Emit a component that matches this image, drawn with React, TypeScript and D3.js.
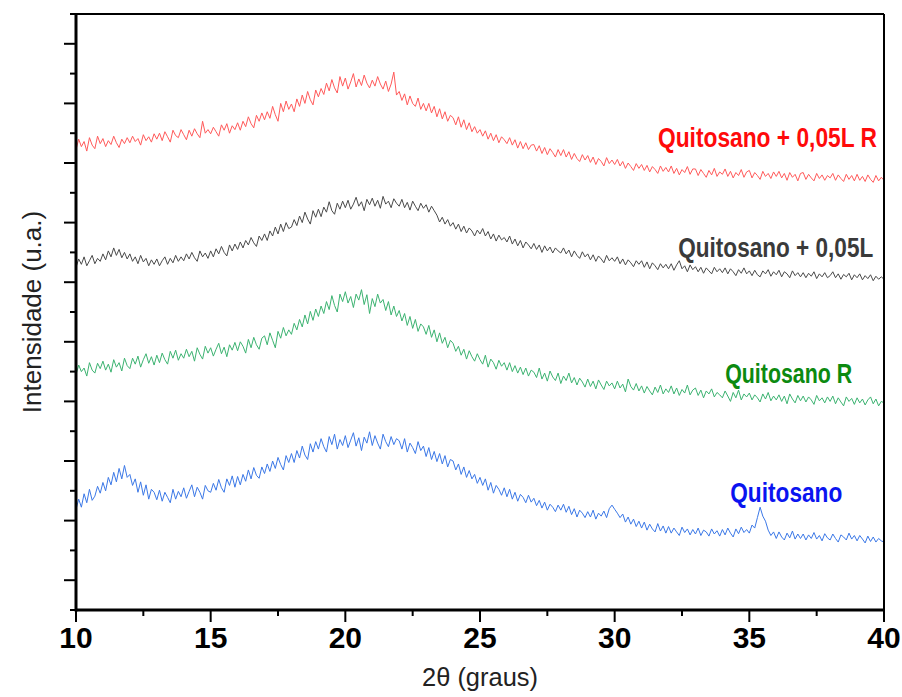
import * as d3 from 'd3';

// 2θ grid: 10° → 40° every 0.1°
const THETA_START = 10;
const THETA_STEP = 0.1;

const xTicks = [10, 15, 20, 25, 30, 35, 40];

// intensities (arbitrary units, 100 per y tick)
const quitosano = [
  338, 372, 345, 390, 360, 405, 368, 382, 415, 392,
  428, 400, 445, 420, 462, 430, 475, 440, 485, 445,
  455, 418, 440, 395, 430, 385, 420, 372, 405, 395,
  370, 402, 365, 395, 378, 360, 405, 372, 398, 380,
  410, 375, 398, 420, 380, 412, 395, 372, 418, 400,
  395, 425, 402, 438, 410, 395, 440, 418, 450, 412,
  448, 420, 455, 432, 470, 440, 478, 452, 442, 480,
  458, 490, 465, 500, 475, 512, 488, 470, 518, 495,
  525, 495, 535, 510, 550, 520, 505, 558, 530, 565,
  540, 575, 548, 530, 582, 555, 590, 540, 572, 552,
  585, 545, 570, 595, 550, 578, 535, 580, 560, 598,
  552, 585, 560, 540, 590, 565, 548, 582, 555, 575,
  568, 540, 575, 530, 560, 545, 525, 565, 535, 550,
  515, 545, 505, 532, 498, 525, 490, 518, 480, 505,
  500, 470, 490, 455, 480, 445, 468, 440, 455, 425,
  445, 418, 440, 402, 428, 392, 418, 405, 385, 410,
  380, 405, 372, 395, 365, 388, 378, 360, 385, 362,
  375, 350, 368, 342, 362, 335, 355, 345, 330, 352,
  335, 355, 328, 348, 320, 340, 312, 335, 325, 310,
  330, 312, 335, 305, 325, 315, 332, 310, 340, 352,
  338, 325, 310, 322, 295, 312, 288, 305, 280, 298,
  275, 295, 268, 288, 272, 262, 290, 265, 282, 258,
  280, 258, 275, 262, 250, 278, 260, 272, 252, 270,
  255, 275, 250, 268, 262, 248, 272, 255, 266, 248,
  270, 252, 275, 258, 245, 272, 256, 278, 260, 270,
  258, 285, 275, 310, 345, 315, 298, 268, 250, 262,
  240, 262, 245, 235, 258, 242, 265, 238, 255, 240,
  255, 235, 252, 240, 260, 238, 250, 232, 256, 242,
  235, 255, 240, 228, 252, 245, 235, 258, 238, 250,
  232, 250, 238, 225, 248, 230, 245, 228, 240, 232,
  228,
];

const quitosanoR = [
  790, 822, 800, 812, 785, 830, 805, 795, 828, 810,
  835, 805, 825, 798, 840, 815, 830, 802, 845, 820,
  810, 845, 825, 852, 815, 840, 860, 828, 850, 822,
  855, 830, 862, 840, 825, 868, 845, 872, 838, 860,
  845, 875, 850, 868, 835, 880, 858, 842, 885, 862,
  880, 852, 875, 895, 860, 882, 850, 890, 872, 898,
  870, 900, 885, 862, 908, 880, 915, 890, 875, 912,
  920, 890, 930, 905, 880, 935, 912, 948, 920, 940,
  925, 962, 940, 975, 950, 990, 960, 1002, 972, 1010,
  985, 1020, 995, 1035, 1008, 1055, 1022, 1000, 1060, 1035,
  1068, 1030, 1052, 1015, 1060, 1040, 1075, 1025, 1058, 995,
  1045, 1018, 1060, 1030, 1042, 1005, 1035, 990, 1020, 985,
  1005, 970, 995, 955, 985, 945, 975, 935, 960, 950,
  925, 955, 915, 940, 900, 930, 895, 915, 880, 905,
  895, 868, 885, 855, 875, 842, 870, 850, 835, 860,
  840, 825, 855, 815, 842, 830, 808, 838, 818, 830,
  805, 830, 800, 820, 795, 815, 790, 812, 785, 805,
  798, 780, 812, 775, 795, 768, 802, 782, 770, 795,
  760, 785, 770, 795, 762, 780, 755, 778, 765, 748,
  775, 750, 768, 742, 772, 755, 740, 768, 752, 762,
  742, 768, 745, 758, 732, 775, 750, 738, 760, 735,
  752, 728, 750, 735, 722, 748, 730, 755, 725, 742,
  730, 752, 725, 745, 720, 740, 728, 755, 722, 738,
  745, 720, 738, 712, 735, 725, 742, 715, 730, 722,
  712, 735, 718, 700, 730, 712, 738, 705, 725, 715,
  728, 705, 722, 712, 698, 725, 708, 730, 702, 718,
  705, 722, 700, 718, 692, 725, 708, 695, 720, 702,
  718, 698, 715, 705, 690, 720, 702, 712, 695, 715,
  700, 718, 692, 712, 698, 685, 715, 700, 710, 690,
  712, 695, 708, 688, 705, 715, 692, 708, 685, 700,
  695,
];

const quitosanoL = [
  1150, 1178, 1160, 1185, 1155, 1172, 1190, 1162, 1180, 1170,
  1195, 1175, 1205, 1185, 1215, 1190, 1210, 1182, 1200, 1178,
  1195, 1170, 1185, 1162, 1190, 1168, 1180, 1155, 1175, 1160,
  1178, 1155, 1172, 1185, 1160, 1180, 1165, 1190, 1170, 1185,
  1172, 1195, 1178, 1200, 1182, 1170, 1205, 1185, 1198, 1180,
  1205, 1185, 1212, 1195, 1220, 1200, 1188, 1225, 1205, 1228,
  1210, 1235, 1215, 1240, 1225, 1250, 1232, 1220, 1255, 1240,
  1262, 1240, 1272, 1255, 1285, 1262, 1295, 1270, 1300, 1280,
  1285, 1310, 1290, 1322, 1300, 1335, 1312, 1295, 1340, 1318,
  1345, 1320, 1352, 1335, 1370, 1340, 1328, 1365, 1345, 1372,
  1350, 1375, 1345, 1362, 1385, 1355, 1370, 1340, 1378, 1360,
  1382, 1355, 1375, 1348, 1388, 1362, 1372, 1350, 1380, 1365,
  1355, 1378, 1350, 1368, 1342, 1372, 1355, 1340, 1365, 1348,
  1360, 1335, 1355, 1340, 1325, 1302, 1318, 1295, 1310, 1288,
  1300, 1278, 1295, 1270, 1288, 1265, 1282, 1272, 1255, 1275,
  1262, 1280, 1255, 1270, 1245, 1262, 1238, 1258, 1242, 1250,
  1235, 1255, 1228, 1245, 1222, 1240, 1215, 1235, 1225, 1212,
  1230, 1210, 1225, 1200, 1222, 1205, 1218, 1198, 1215, 1205,
  1198, 1215, 1195, 1208, 1185, 1205, 1190, 1180, 1202, 1185,
  1195, 1175, 1192, 1170, 1188, 1178, 1165, 1190, 1172, 1182,
  1170, 1185, 1162, 1178, 1158, 1175, 1165, 1152, 1172, 1160,
  1172, 1150, 1168, 1145, 1165, 1155, 1142, 1162, 1148, 1160,
  1145, 1162, 1140, 1158, 1172, 1145, 1155, 1135, 1158, 1142,
  1152, 1135, 1150, 1130, 1148, 1138, 1128, 1150, 1135, 1145,
  1132, 1148, 1128, 1145, 1135, 1122, 1142, 1130, 1148, 1128,
  1138, 1122, 1140, 1125, 1118, 1138, 1128, 1142, 1120, 1135,
  1125, 1140, 1118, 1135, 1128, 1115, 1138, 1122, 1132, 1118,
  1132, 1115, 1130, 1120, 1135, 1112, 1128, 1118, 1132, 1115,
  1122, 1135, 1115, 1128, 1110, 1126, 1118, 1130, 1108, 1125,
  1115, 1128, 1108, 1122, 1112, 1125, 1105, 1120, 1110, 1118,
  1110,
];

const quitosanoLR = [
  1545, 1580, 1555, 1572, 1540, 1585, 1560, 1548, 1590, 1565,
  1582, 1555, 1575, 1562, 1590, 1568, 1552, 1580, 1565, 1585,
  1568, 1590, 1572, 1582, 1560, 1595, 1575, 1588, 1570, 1598,
  1580, 1600, 1575, 1605, 1588, 1570, 1610, 1592, 1585, 1612,
  1595, 1578, 1610, 1590, 1615, 1598, 1585, 1640, 1600, 1612,
  1598, 1620, 1605, 1590, 1628, 1610, 1632, 1600, 1625, 1612,
  1635, 1610, 1640, 1622, 1655, 1632, 1618, 1660, 1640, 1668,
  1645, 1672, 1650, 1690, 1662, 1640, 1700, 1672, 1708, 1680,
  1698, 1672, 1715, 1690, 1728, 1700, 1740, 1712, 1695, 1745,
  1722, 1750, 1730, 1768, 1742, 1780, 1752, 1735, 1790, 1758,
  1785, 1748, 1772, 1800, 1755, 1782, 1760, 1795, 1768, 1752,
  1778, 1758, 1790, 1765, 1748, 1775, 1740, 1765, 1805, 1728,
  1740, 1710, 1732, 1695, 1725, 1700, 1690, 1718, 1680, 1700,
  1675, 1700, 1668, 1690, 1655, 1682, 1648, 1672, 1640, 1660,
  1652, 1628, 1655, 1620, 1645, 1612, 1635, 1605, 1622, 1600,
  1612, 1590, 1608, 1580, 1600, 1575, 1595, 1568, 1588, 1578,
  1565, 1585, 1560, 1578, 1550, 1572, 1548, 1568, 1545, 1560,
  1562, 1540, 1558, 1532, 1552, 1528, 1548, 1535, 1520, 1545,
  1525, 1545, 1520, 1538, 1512, 1532, 1515, 1505, 1528, 1510,
  1525, 1502, 1520, 1495, 1515, 1505, 1490, 1518, 1498, 1510,
  1495, 1512, 1490, 1505, 1482, 1500, 1488, 1475, 1498, 1482,
  1495, 1475, 1492, 1470, 1488, 1478, 1465, 1490, 1472, 1485,
  1470, 1490, 1465, 1482, 1460, 1478, 1468, 1488, 1462, 1480,
  1480, 1458, 1478, 1465, 1452, 1475, 1460, 1482, 1455, 1470,
  1462, 1480, 1455, 1472, 1450, 1468, 1458, 1478, 1452, 1470,
  1475, 1450, 1468, 1458, 1445, 1472, 1455, 1465, 1448, 1470,
  1455, 1472, 1450, 1465, 1442, 1468, 1452, 1462, 1440, 1465,
  1468, 1445, 1462, 1450, 1440, 1465, 1448, 1460, 1442, 1458,
  1450, 1465, 1442, 1460, 1448, 1438, 1462, 1445, 1458, 1440,
  1462, 1442, 1455, 1438, 1460, 1445, 1435, 1458, 1440, 1452,
  1442,
];

const seriesNames = ['Quitosano', 'Quitosano R', 'Quitosano + 0,05L', 'Quitosano + 0,05L R'];
const seriesValues = [quitosano, quitosanoR, quitosanoL, quitosanoLR];
const lineColors = ['#3b78e7', '#3cb371', '#4a4a4a', '#ff5a5a'];
const labelColors = ['#0a14f0', '#0c8a10', '#3a3a3a', '#ff0a0a'];
// label anchor (right end) in data coords: [2θ, intensity]
const labelPos: [number, number][] = [[38.45, 362], [38.82, 762], [39.6, 1185], [39.74, 1554]];
// condensed label widths
const labelWidths = [112, 127, 195, 219];

const W = 902;
const H = 697;
const M = { top: 14, right: 18, bottom: 87, left: 76 };

export default function App() {
  const x = d3.scaleLinear().domain([10, 40]).range([M.left, W - M.right]);
  const y = d3.scaleLinear().domain([0, 2000]).range([H - M.bottom, M.top]);

  const line = d3.line<number>()
    .x((_, i) => x(THETA_START + i * THETA_STEP))
    .y(d => y(d));

  const yTickVals = d3.range(0, 2001, 100);
  const xTickVals = d3.range(10, 40.01, 2.5);
  const font = "'Liberation Sans', Arial, sans-serif";

  const x0 = x.range()[0], x1 = x.range()[1];
  const y0 = y.range()[0], y1 = y.range()[1];

  return (
    <svg width={W} height={H} style={{ position: 'absolute', left: 0, top: 0, background: '#fff' }}>
      {/* series */}
      {seriesValues.map((vals, k) => (
        <path key={k} d={line(vals) ?? ''} fill="none" stroke={lineColors[k]} strokeWidth={1} strokeLinejoin="round" />
      ))}

      {/* frame */}
      <line x1={x0} x2={x1} y1={y1} y2={y1} stroke="#000" strokeWidth={2} />
      <line x1={x1} x2={x1} y1={y1} y2={y0} stroke="#000" strokeWidth={2} />
      <line x1={x0} x2={x1 + 1} y1={y0} y2={y0} stroke="#000" strokeWidth={3} />
      <line x1={x0} x2={x0} y1={y1 - 1} y2={y0 + 1.5} stroke="#000" strokeWidth={3} />

      {/* y ticks */}
      {yTickVals.map(v => {
        const major = (v / 100) % 2 === 1;
        return <line key={v} x1={x0} x2={x0 - (major ? 12 : 6)} y1={y(v)} y2={y(v)} stroke="#000" strokeWidth={2} />;
      })}

      {/* x ticks */}
      {xTickVals.map(v => {
        const major = v % 5 === 0;
        return <line key={v} x1={x(v)} x2={x(v)} y1={y0} y2={y0 + (major ? 12 : 6)} stroke="#000" strokeWidth={2} />;
      })}
      {xTicks.map(v => (
        <text key={v} x={x(v)} y={y0 + 38} textAnchor="middle" fontFamily={font} fontWeight="bold" fontSize={30} fill="#000">{v}</text>
      ))}

      {/* axis titles */}
      <text x={(x0 + x1) / 2} y={H - 11} textAnchor="middle" fontFamily={font} fontSize={25} fill="#222"
        textLength={116} lengthAdjust="spacingAndGlyphs">2θ (graus)</text>
      <text transform={`translate(41,${(y0 + y1) / 2}) rotate(-90)`} textAnchor="middle" fontFamily={font} fontSize={26} fill="#222">Intensidade (u.a.)</text>

      {/* series labels */}
      {seriesNames.map((name, k) => (
        <text key={name} x={x(labelPos[k][0])} y={y(labelPos[k][1])} textAnchor="end" fontFamily={font} fontWeight="bold" fontSize={28}
          textLength={labelWidths[k]} lengthAdjust="spacingAndGlyphs" fill={labelColors[k]}>{name}</text>
      ))}
    </svg>
  );
}
